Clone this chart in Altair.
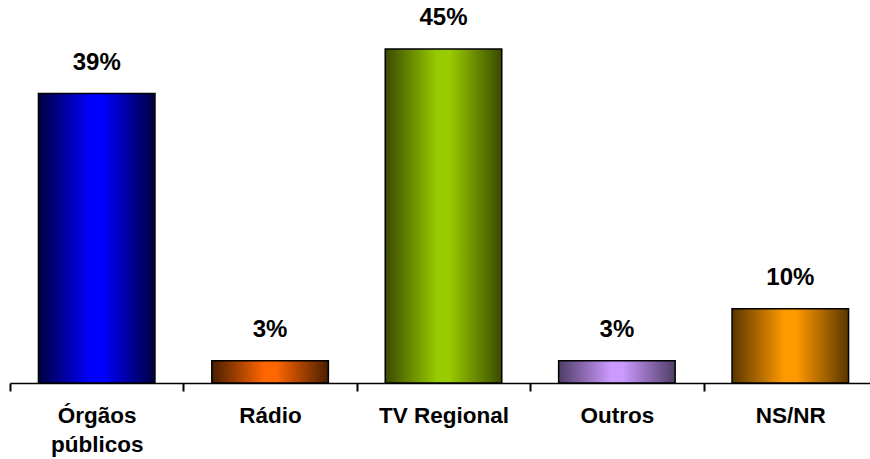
import altair as alt
import pandas as pd

categories = ["Órgãos públicos", "Rádio", "TV Regional", "Outros", "NS/NR"]
values = [39, 3, 45, 3, 10]
labels = ["39%", "3%", "45%", "3%", "10%"]
bright = ["#0000FF", "#FF6600", "#99CC00", "#CC99FF", "#FF9900"]
dark = ["#000040", "#4A1E00", "#3A4A00", "#4E3E66", "#5A3600"]

df = pd.DataFrame({"cat": categories, "val": values, "lab": labels})

step = 867 / len(categories)

x_enc = alt.X(
    "cat:N",
    sort=categories,
    title=None,
    scale=alt.Scale(range=[0, 867], paddingInner=0, paddingOuter=0),
    axis=alt.Axis(
        labelAngle=0,
        labelFont="Liberation Sans",
        labelFontWeight="bold",
        labelFontSize=22.5,
        labelColor="black",
        labelPadding=13,
        labelLineHeight=29,
        labelBaseline="top",
        labelExpr="datum.label == 'Órgãos públicos' ? ['Órgãos', 'públicos'] : datum.label",
        ticks=True,
        tickOffset=-step / 2,
        labelOffset=step / 2,
        tickSize=8,
        tickColor="black",
        tickWidth=2,
        domainColor="black",
        domainWidth=1.5,
        grid=False,
    ),
)
y_enc = alt.Y("val:Q", scale=alt.Scale(domain=[0, 50]), axis=None)

layers = []
for c, b, d in zip(categories, bright, dark):
    grad = alt.LinearGradient(
        gradient="linear",
        x1=0, x2=1, y1=0, y2=0,
        stops=[
            alt.GradientStop(color=d, offset=0),
            alt.GradientStop(color=b, offset=0.45),
            alt.GradientStop(color=b, offset=0.55),
            alt.GradientStop(color=d, offset=1),
        ],
    )
    layers.append(
        alt.Chart(df)
        .transform_filter(alt.datum.cat == c)
        .mark_bar(fill=grad, stroke="black", strokeWidth=1.5,
                  width=alt.RelativeBandSize(0.672))
        .encode(x=x_enc, y=y_enc)
    )

text = (
    alt.Chart(df)
    .mark_text(
        font="Liberation Sans",
        fontWeight="bold",
        fontSize=24,
        color="black",
        baseline="alphabetic",
        dy=-24,
    )
    .encode(x=x_enc, y=y_enc, text="lab:N")
)

chart = (
    alt.layer(*layers, text)
    .properties(
        width=860,
        height=371,
        autosize=alt.AutoSizeParams(type="none"),
        padding={"left": 10, "top": 12, "right": 0, "bottom": 76},
    )
    .configure(background="white")
    .configure_view(strokeWidth=0, stroke="transparent")
)

chart.save("out.html", embed_options={"renderer": "svg", "actions": False})
